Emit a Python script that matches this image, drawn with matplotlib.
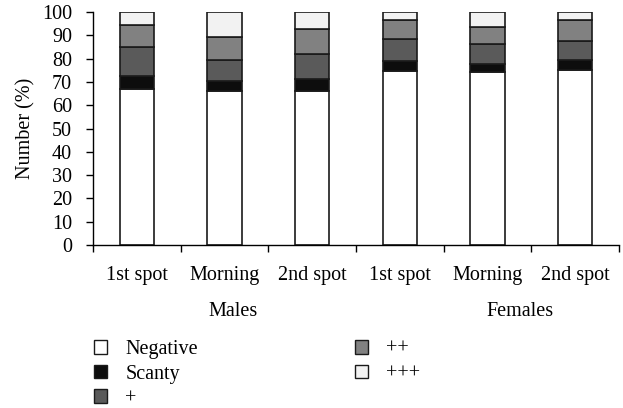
import matplotlib.pyplot as plt
from matplotlib.patches import Patch
import numpy as np

plt.rcParams['font.family'] = ['Liberation Serif', 'DejaVu Serif']

categories = ['1st spot', 'Morning', '2nd spot', '1st spot', 'Morning', '2nd spot']
groups = ['Males', 'Females']
negative = [67.0, 66.1, 66.2, 74.7, 74.4, 75.1]
scanty = [5.4, 4.3, 4.9, 4.3, 3.3, 4.2]
plus1 = [12.4, 9.1, 11.0, 9.3, 8.7, 8.3]
plus2 = [9.6, 9.9, 10.5, 8.1, 7.3, 9.0]
plus3 = [5.6, 10.6, 7.4, 3.6, 6.3, 3.4]

series = [('Negative', negative, '#ffffff'),
          ('Scanty', scanty, '#0d0d0d'),
          ('+', plus1, '#5a5a5a'),
          ('++', plus2, '#818181'),
          ('+++', plus3, '#f2f2f2')]

fs = 14.5
fig = plt.figure(figsize=(6.23, 4.08), dpi=100)
ax = fig.add_axes([93 / 623, 1 - 245 / 408, 526 / 623, 233 / 408])

x = np.arange(len(categories))
bottom = np.zeros(len(categories))
handles = []
for name, vals, col in series:
    ax.bar(x, vals, 0.39, bottom=bottom, color=col, edgecolor='#1a1a1a', linewidth=1.2)
    bottom += np.array(vals)
    handles.append(Patch(facecolor=col, edgecolor='#1a1a1a', linewidth=1.0, label=name))

ax.set_xlim(-0.5, len(categories) - 0.5)
ax.set_ylim(0, 100)
ax.set_yticks(range(0, 101, 10))
ax.set_xticks(x)
ax.set_xticklabels(categories, fontsize=fs)
ax.set_xticks(np.arange(-0.5, len(categories), 1), minor=True)
ax.tick_params(axis='x', which='major', length=0, pad=15)
ax.tick_params(axis='x', which='minor', length=5, direction='out', width=1)
ax.tick_params(axis='y', length=5, direction='out', width=1, labelsize=fs, pad=10)
ax.spines['top'].set_visible(False)
ax.spines['right'].set_visible(False)
ax.spines['left'].set_linewidth(1)
ax.spines['bottom'].set_linewidth(1)
ax.set_ylabel('Number (%)', fontsize=fs, labelpad=5)

fig.text(233 / 623, 1 - 311 / 408, groups[0], fontsize=fs, ha='center', va='center')
fig.text(520 / 623, 1 - 311 / 408, groups[1], fontsize=fs, ha='center', va='center')

fig.legend(handles=handles, ncol=2, loc='upper left', bbox_to_anchor=(94 / 623, 1 - 340 / 408),
           frameon=False, fontsize=fs, handlelength=0.65, handleheight=0.65, handletextpad=0.9,
           columnspacing=7.8, labelspacing=0.28, borderaxespad=0, borderpad=0)

fig.savefig('out.png', dpi=100)
